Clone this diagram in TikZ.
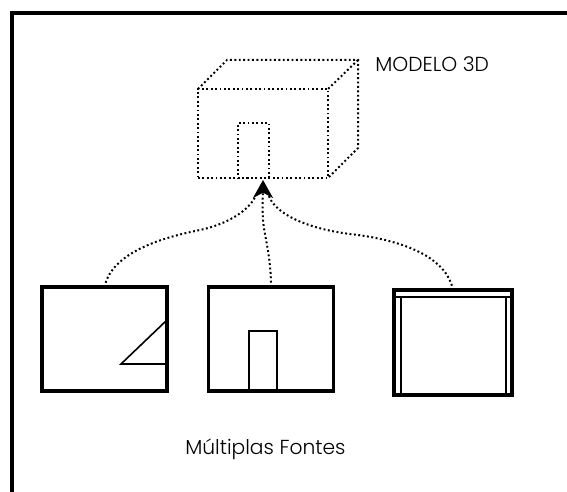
\documentclass[tikz,border=0pt]{standalone}
\usepackage{fontspec}
\setmainfont{Poppins}[UprightFont=* Light]
\usetikzlibrary{arrows.meta}
\tikzset{
  dotline/.style={line width=1.5pt,dash pattern=on 1.4pt off 1.9pt},
  solidbox/.style={draw,line width=2.4pt,inner sep=0pt,outer sep=0pt,minimum width=93.75pt,minimum height=78pt},
  dotbox/.style={draw,dotline,inner sep=0pt,outer sep=0pt},
  thinline/.style={line width=1.2pt},
  caption/.style={inner sep=0pt,anchor=base west,font=\fontsize{15.2pt}{18pt}\selectfont}
}
\begin{document}
\begin{tikzpicture}[x=0.75pt,y=-0.75pt]
\useasboundingbox (0,0) rectangle (567,492);
\draw[line width=3pt] (12,492) -- (12,13) -- (567,13);
% 3D model
\node[dotbox,minimum width=97.5pt,minimum height=66.75pt] (front) at (263,133.5) {};
\node[dotbox,minimum width=23.25pt,minimum height=41.25pt] (door) at (253.5,150.5) {};
\coordinate (backA) at (227,60);
\coordinate (backB) at (358,60);
\coordinate (backC) at (358,148);
\draw[dotline] (front.north west) -- (backA) -- (backB) -- (backC) -- (front.south east);
\draw[dotline] (backB) -- (front.north east);
% source views
\node[solidbox] (v1) at (104.5,339) {};
\node[solidbox] (v2) at (271,339) {};
\node[solidbox,minimum width=88.5pt,minimum height=78.75pt] (v3) at (453,342.5) {};
\draw[thinline] (v1.east |- 0,320) coordinate (t1) -- (121,364) coordinate (t2) -- (v1.east |- t2);
\draw[thinline] (249,391) -- (249,331) -- (277,331) -- (277,391);
\draw[thinline] (401,395) -- (401,297) -- (506,297) -- (506,395);
\draw[thinline] (394,297) -- (512,297);
% connectors
\draw[dotline,shorten >=13.5pt] (v1.north) .. controls (112,250) and (170,236) .. (200,230) .. controls (228,224) and (250,210) .. (front.south);
\draw[dotline,shorten >=13.5pt] (v3.north) .. controls (445,250) and (385,238) .. (350,234) .. controls (310,229) and (275,215) .. (front.south);
\draw[dotline,-{Stealth[length=13.5pt,width=15pt,inset=4pt]}] (v2.north) .. controls (271,255) and (264,235) .. (263,220) .. controls (262,205) and (263,195) .. (263,180);
% labels
\node[caption] (modelo) at (375,72) {MODELO 3D};
\node[caption] (fontes) at (185,454) {Múltiplas Fontes};
\end{tikzpicture}
\end{document}
